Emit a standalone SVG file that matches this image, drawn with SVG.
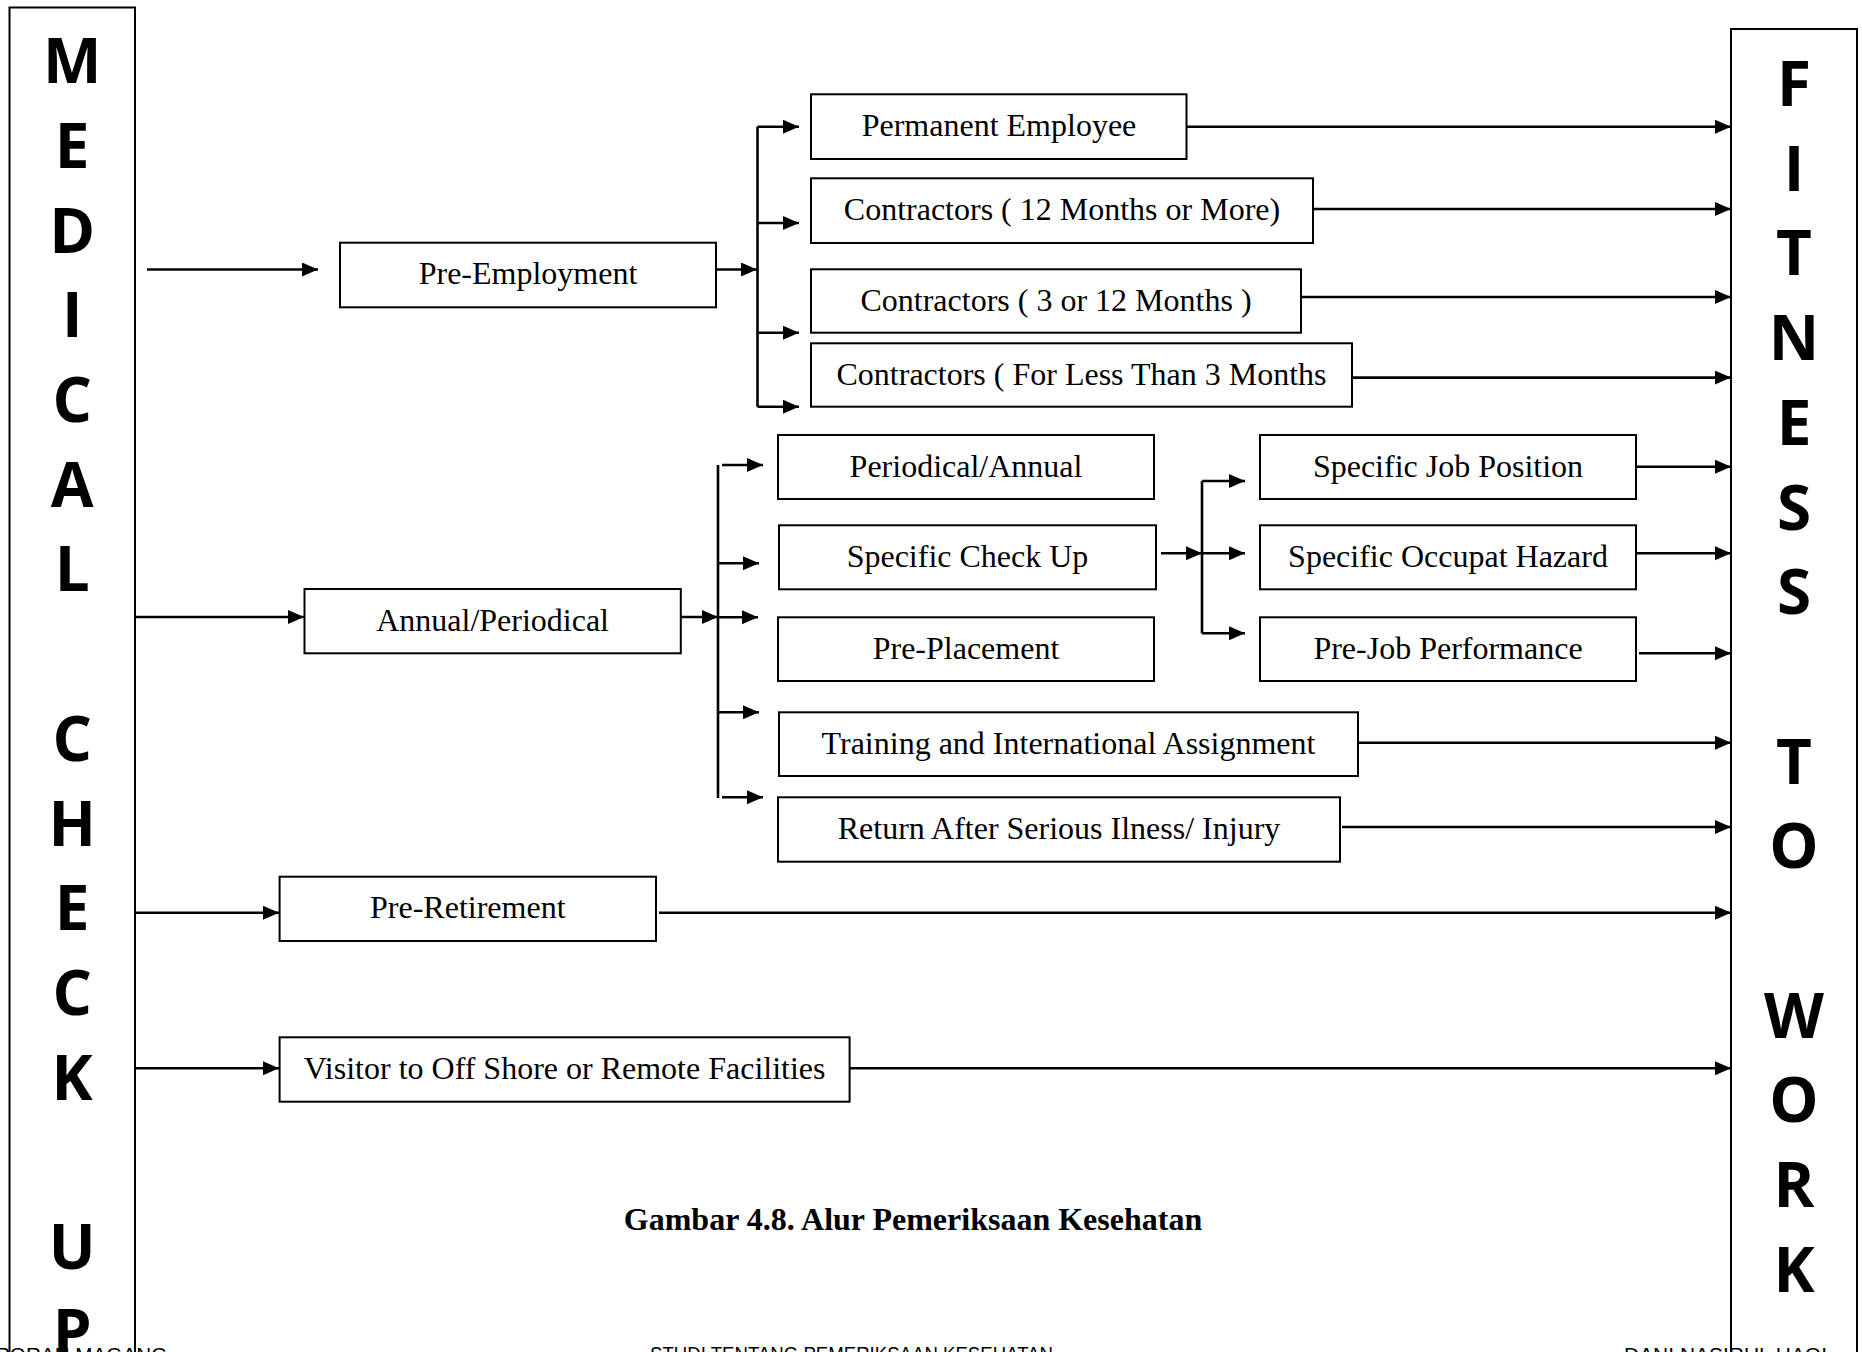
<svg xmlns="http://www.w3.org/2000/svg" width="1862" height="1352" viewBox="0 0 1862 1352">
<style>
.bg{fill:#fff}
.box{fill:#fff;stroke:#000;stroke-width:2}
.col{fill:none;stroke:#000;stroke-width:2}
.lbl{font-family:"Liberation Serif","Times New Roman",serif;font-size:32px;fill:#000;text-anchor:middle}
.big{font-family:"Open Sans","Liberation Sans",sans-serif;font-weight:700;font-size:62px;fill:#000;text-anchor:middle}
.cap{font-family:"Liberation Serif","Times New Roman",serif;font-size:32px;font-weight:700;fill:#000;text-anchor:middle}
.foot{font-family:"Liberation Sans",Arial,sans-serif;font-size:20.7px;fill:#000}
.ln{fill:none;stroke:#000;stroke-width:2.6}
.ar{fill:none;stroke:#000;stroke-width:2.6;marker-end:url(#ah)}
</style>
<defs>
<marker id="ah" markerUnits="userSpaceOnUse" markerWidth="17" markerHeight="15" refX="16" refY="7" orient="auto">
<path d="M0,0 L16,7 L0,14 z" fill="#000"/>
</marker>
</defs>
<rect class="bg" x="0" y="0" width="1862" height="1352"/>

<g id="medical-check-up">
<rect class="col" x="9.5" y="7.5" width="125.5" height="1400"/>
<text class="big" x="72.2" y="83.3">M</text>
<text class="big" x="72.2" y="168">E</text>
<text class="big" x="72.2" y="252.7">D</text>
<text class="big" x="72.2" y="337.4">I</text>
<text class="big" x="72.2" y="422.1">C</text>
<text class="big" x="72.2" y="506.8">A</text>
<text class="big" x="72.2" y="591.4">L</text>
<text class="big" x="72.2" y="760.8">C</text>
<text class="big" x="72.2" y="845.5">H</text>
<text class="big" x="72.2" y="930.2">E</text>
<text class="big" x="72.2" y="1014.9">C</text>
<text class="big" x="72.2" y="1099.6">K</text>
<text class="big" x="72.2" y="1269">U</text>
<text class="big" x="72.2" y="1353.7">P</text>
</g>

<g id="fitness-to-work">
<rect class="col" x="1731" y="29" width="126" height="1400"/>
<text class="big" x="1794" y="106">F</text>
<text class="big" x="1794" y="190.7">I</text>
<text class="big" x="1794" y="275.4">T</text>
<text class="big" x="1794" y="360.1">N</text>
<text class="big" x="1794" y="444.8">E</text>
<text class="big" x="1794" y="529.5">S</text>
<text class="big" x="1794" y="614.2">S</text>
<text class="big" x="1794" y="783.6">T</text>
<text class="big" x="1794" y="868.3">O</text>
<text class="big" x="1794" y="1037.7">W</text>
<text class="big" x="1794" y="1122.4">O</text>
<text class="big" x="1794" y="1207.1">R</text>
<text class="big" x="1794" y="1291.8">K</text>
</g>

<g id="connectors">
<line class="ar" x1="147" y1="269.5" x2="318" y2="269.5"/>
<line class="ar" x1="716" y1="269.5" x2="757" y2="269.5"/>
<line class="ln" x1="757.5" y1="126.7" x2="757.5" y2="406.7"/>
<line class="ar" x1="757.5" y1="126.7" x2="799" y2="126.7"/>
<line class="ar" x1="757.5" y1="223" x2="799" y2="223"/>
<line class="ar" x1="757.5" y1="332.7" x2="799" y2="332.7"/>
<line class="ar" x1="757.5" y1="406.7" x2="799" y2="406.7"/>
<line class="ar" x1="1187" y1="126.7" x2="1731" y2="126.7"/>
<line class="ar" x1="1313" y1="209" x2="1731" y2="209"/>
<line class="ar" x1="1301" y1="297" x2="1731" y2="297"/>
<line class="ar" x1="1352" y1="377.6" x2="1731" y2="377.6"/>
<line class="ar" x1="135" y1="617" x2="304" y2="617"/>
<line class="ar" x1="681" y1="617" x2="718" y2="617"/>
<line class="ln" x1="718" y1="465" x2="718" y2="798"/>
<line class="ar" x1="722" y1="465" x2="763" y2="465"/>
<line class="ar" x1="718" y1="563.3" x2="759" y2="563.3"/>
<line class="ar" x1="718" y1="617.3" x2="758" y2="617.3"/>
<line class="ar" x1="718" y1="712.3" x2="759" y2="712.3"/>
<line class="ar" x1="722" y1="797.3" x2="763" y2="797.3"/>
<line class="ar" x1="1161" y1="553.3" x2="1202" y2="553.3"/>
<line class="ln" x1="1202" y1="481" x2="1202" y2="633.3"/>
<line class="ar" x1="1202" y1="481" x2="1245" y2="481"/>
<line class="ar" x1="1202" y1="553.3" x2="1245" y2="553.3"/>
<line class="ar" x1="1202" y1="633.3" x2="1245" y2="633.3"/>
<line class="ar" x1="1636" y1="466.7" x2="1731" y2="466.7"/>
<line class="ar" x1="1636" y1="553.3" x2="1731" y2="553.3"/>
<line class="ar" x1="1639" y1="653.3" x2="1731" y2="653.3"/>
<line class="ar" x1="1358" y1="742.7" x2="1731" y2="742.7"/>
<line class="ar" x1="1342" y1="827" x2="1731" y2="827"/>
<line class="ar" x1="135" y1="912.7" x2="279" y2="912.7"/>
<line class="ar" x1="659" y1="912.7" x2="1731" y2="912.7"/>
<line class="ar" x1="135" y1="1068.3" x2="279" y2="1068.3"/>
<line class="ar" x1="850" y1="1068.3" x2="1731" y2="1068.3"/>
</g>

<g id="pre-employment"><rect class="box" x="340" y="242.7" width="376" height="64.6"/><text class="lbl" x="528" y="284">Pre-Employment</text></g>
<g id="permanent-employee"><rect class="box" x="811" y="94.3" width="375.5" height="64.7"/><text class="lbl" x="999" y="136">Permanent Employee</text></g>
<g id="contractors-12-more"><rect class="box" x="811" y="178.3" width="502" height="64.7"/><text class="lbl" x="1062" y="220">Contractors ( 12 Months or More)</text></g>
<g id="contractors-3-12"><rect class="box" x="811" y="269.3" width="490" height="63.4"/><text class="lbl" x="1056" y="310.5">Contractors ( 3 or 12 Months )</text></g>
<g id="contractors-less-3"><rect class="box" x="811" y="343.3" width="541" height="63.4"/><text class="lbl" x="1081.5" y="384.5">Contractors ( For Less Than 3 Months</text></g>

<g id="annual-periodical"><rect class="box" x="304.5" y="589" width="376.3" height="64.3"/><text class="lbl" x="492.6" y="630.5">Annual/Periodical</text></g>
<g id="periodical-annual"><rect class="box" x="778" y="435" width="376" height="64"/><text class="lbl" x="966" y="476.5">Periodical/Annual</text></g>
<g id="specific-check-up"><rect class="box" x="779" y="525.3" width="377" height="64"/><text class="lbl" x="967.5" y="566.8">Specific Check Up</text></g>
<g id="pre-placement"><rect class="box" x="778" y="617.3" width="376" height="63.7"/><text class="lbl" x="966" y="658.5">Pre-Placement</text></g>
<g id="training"><rect class="box" x="779" y="712.3" width="579" height="63.7"/><text class="lbl" x="1068.5" y="753.5">Training and International Assignment</text></g>
<g id="return-after-illness"><rect class="box" x="778" y="797.3" width="562" height="64.4"/><text class="lbl" x="1059" y="838.8">Return After Serious Ilness/ Injury</text></g>

<g id="specific-job-position"><rect class="box" x="1260" y="435" width="376" height="64"/><text class="lbl" x="1448" y="476.5">Specific Job Position</text></g>
<g id="specific-occupat-hazard"><rect class="box" x="1260" y="525.3" width="376" height="64"/><text class="lbl" x="1448" y="566.8">Specific Occupat Hazard</text></g>
<g id="pre-job-performance"><rect class="box" x="1260" y="617.3" width="376" height="63.7"/><text class="lbl" x="1448" y="658.5">Pre-Job Performance</text></g>

<g id="pre-retirement"><rect class="box" x="279.6" y="876.7" width="376.4" height="64.3"/><text class="lbl" x="467.8" y="918">Pre-Retirement</text></g>
<g id="visitor"><rect class="box" x="279.6" y="1037.3" width="570" height="64.4"/><text class="lbl" x="564.6" y="1078.8">Visitor to Off Shore or Remote Facilities</text></g>

<text class="cap" x="913" y="1230">Gambar 4.8. Alur Pemeriksaan Kesehatan</text>

<text class="foot" x="-4" y="1362">PORAN MAGANG</text>
<text class="foot" x="650" y="1361" textLength="403" lengthAdjust="spacingAndGlyphs">STUDI TENTANG PEMERIKSAAN KESEHATAN</text>
<text class="foot" x="1624" y="1362" textLength="203" lengthAdjust="spacingAndGlyphs">DANI NASIRUL HAQI</text>
</svg>
